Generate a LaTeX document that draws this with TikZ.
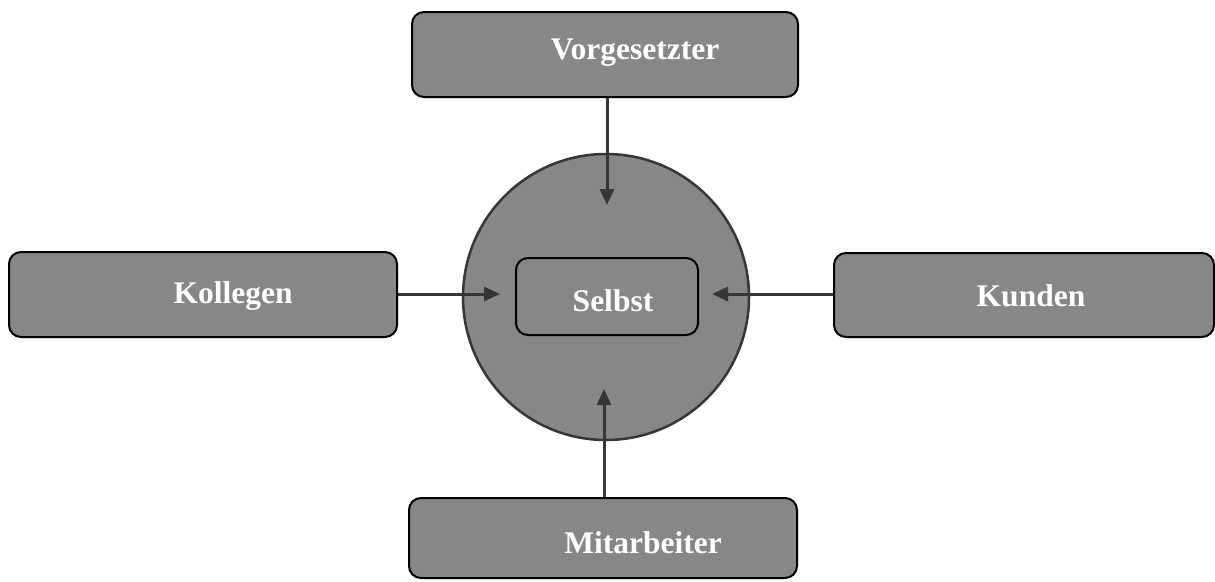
\documentclass[tikz,border=0pt]{standalone}
\usepackage{fontspec}
\setmainfont{Liberation Serif}
\usetikzlibrary{arrows.meta}
\definecolor{boxgray}{HTML}{878787}
\definecolor{linegray}{HTML}{363636}
\tikzset{
  x=1pt, y=-1pt,
  rbox/.style={draw=black, line width=2pt, fill=boxgray, rounded corners=12pt, inner sep=0pt},
  lbl/.style={text=white, font=\fontsize{31.5}{36}\selectfont\bfseries, inner sep=0pt},
  conn/.style={draw=linegray, line width=3pt, -{Triangle[length=16pt,width=14pt]}},
}
\begin{document}
\begin{tikzpicture}
\useasboundingbox (0,0) rectangle (1215,581);
% circle
\node[circle, draw=linegray, line width=2.5pt, fill=boxgray, minimum size=286pt, inner sep=0pt] (circ) at (606,297) {};
% boxes
\node[rbox, minimum width=386pt, minimum height=85pt] (vorg) at (605,54.5) {};
\node[rbox, minimum width=388pt, minimum height=85pt] (koll) at (203,294.5) {};
\node[rbox, minimum width=380pt, minimum height=84pt] (kund) at (1024,295) {};
\node[rbox, minimum width=388pt, minimum height=80pt] (mita) at (603,538) {};
\node[rbox, minimum width=182pt, minimum height=77pt] (selbst) at (607,296.5) {};
% labels
\node[lbl] (tvorg) at (635,53) {Vorgesetzter};
\node[lbl] (tkoll) at (233,296) {Kollegen};
\node[lbl] (tkund) at (1031,296) {Kunden};
\node[lbl] (tmita) at (643,543) {Mitarbeiter};
\node[lbl] (tselbst) at (613,301) {Selbst};
% arrow ends
\coordinate (evorg) at (607,205);
\coordinate (ekoll) at (500,294);
\coordinate (ekund) at (712,294);
\coordinate (emita) at (604,389);
\draw[conn] (vorg.south -| evorg) -- (evorg);
\draw[conn] (koll.east |- ekoll) -- (ekoll);
\draw[conn] (kund.west |- ekund) -- (ekund);
\draw[conn] (mita.north -| emita) -- (emita);
\end{tikzpicture}
\end{document}
